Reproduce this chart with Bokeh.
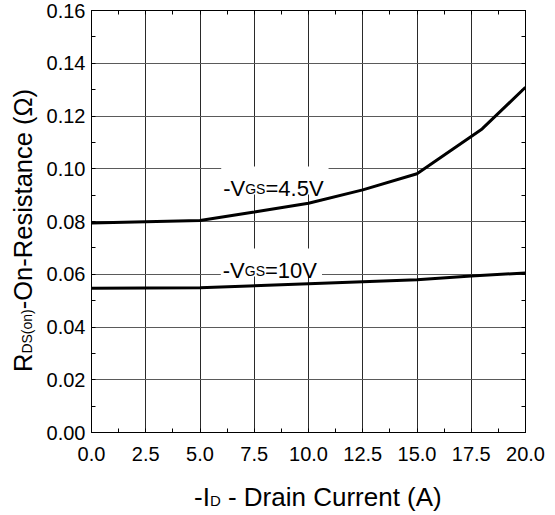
from bokeh.plotting import figure
from bokeh.models import Range1d, FixedTicker, LinearAxis, Label, BoxAnnotation, Div
from bokeh.layouts import column, row
from bokeh.embed import file_html
from bokeh.resources import INLINE

# ---- data ----
current_45 = [0.0, 2.5, 5.0, 7.5, 10.0, 12.5, 15.0, 18.0, 20.0]
rdson_45 = [0.0794, 0.0799, 0.0804, 0.0836, 0.0869, 0.0920, 0.0981, 0.1151, 0.1309]
current_10 = [0.0, 5.0, 10.0, 15.0, 17.5, 20.0]
rdson_10 = [0.0547, 0.0549, 0.0564, 0.0579, 0.0593, 0.0605]

x_ticks = [0.0, 2.5, 5.0, 7.5, 10.0, 12.5, 15.0, 17.5, 20.0]
x_tick_labels = ["0.0", "2.5", "5.0", "7.5", "10.0", "12.5", "15.0", "17.5", "20.0"]
y_ticks = [0.0, 0.02, 0.04, 0.06, 0.08, 0.10, 0.12, 0.14, 0.16]
y_tick_labels = ["0.00", "0.02", "0.04", "0.06", "0.08", "0.10", "0.12", "0.14", "0.16"]

FONT = "Liberation Sans"
YDIV_W = 40
W, HP = 555 - YDIV_W, 471
BL, BR, BT, BB = 51, 30, 10, 39
FW, FH = W - BL - BR, HP - BT - BB
XMIN, XMAX, YMIN, YMAX = 0.0, 20.0, 0.0, 0.16
PX_X = FW / (XMAX - XMIN)
PX_Y = FH / (YMAX - YMIN)

CW = {'-': .333, 'V': .667, 'G': .778, 'S': .667, '=': .584, '4': .556, '.': .278,
      '5': .556, '1': .556, '0': .556}


def tw(s, size):
    return sum(CW.get(c, .556) for c in s) * size


p = figure(width=W, height=HP, x_range=Range1d(XMIN, XMAX), y_range=Range1d(YMIN, YMAX),
           output_backend="svg", toolbar_location=None,
           min_border_left=BL, min_border_right=BR, min_border_top=BT, min_border_bottom=BB)
p.background_fill_color = "white"
p.border_fill_color = "white"
p.outline_line_color = "black"
p.outline_line_width = 1

x_minor = [1.25 * i for i in range(17)]
y_minor = [0.01 * i for i in range(17)]
xt = FixedTicker(ticks=x_ticks, minor_ticks=x_minor)
yt = FixedTicker(ticks=y_ticks, minor_ticks=y_minor)

p.xaxis.ticker = xt
p.yaxis.ticker = yt
p.xaxis.major_label_overrides = {t: l for t, l in zip(x_ticks, x_tick_labels)}
p.yaxis.major_label_overrides = {t: l for t, l in zip(y_ticks, y_tick_labels)}

for ax in (p.xaxis[0], p.yaxis[0]):
    ax.major_label_text_font = FONT
    ax.major_label_text_font_size = "20px"
    ax.major_label_text_color = "black"
    ax.axis_line_color = "black"
    ax.major_tick_in = 0
    ax.major_tick_out = 0
    ax.minor_tick_in = 4
    ax.minor_tick_out = 0
    ax.minor_tick_line_color = "black"
p.xaxis.major_label_standoff = 14
p.yaxis.major_label_standoff = 6

for loc, mt in (("right", y_minor), ("above", x_minor)):
    ax = LinearAxis(ticker=FixedTicker(ticks=[], minor_ticks=mt), major_label_standoff=0,
                    major_tick_in=0, major_tick_out=0, minor_tick_in=4, minor_tick_out=0,
                    axis_line_color="black", minor_tick_line_color="black")
    p.add_layout(ax, loc)

p.xgrid.ticker = xt
p.ygrid.ticker = yt
p.xgrid.grid_line_color = "#2a2a2a"
p.ygrid.grid_line_color = "#5a5a5a"
p.xgrid.grid_line_width = 1
p.ygrid.grid_line_width = 1

p.line(current_45, rdson_45, line_color="black", line_width=3)
p.line(current_10, rdson_10, line_color="black", line_width=3)


def curve_label(pieces, x0, y0):
    total = sum(tw(t, s) for t, s in pieces)
    p.add_layout(BoxAnnotation(left=x0 - 2 / PX_X, right=x0 + (total + 5) / PX_X,
                               bottom=y0 - 6 / PX_Y, top=y0 + 22 / PX_Y,
                               fill_color="white", fill_alpha=1.0, line_color=None))
    off = 0.0
    for t, s in pieces:
        p.add_layout(Label(x=x0 + off / PX_X, y=y0, text=t, text_font=FONT,
                           text_font_size=f"{s}px", text_color="black",
                           text_baseline="alphabetic", text_align="left"))
        off += tw(t, s)


curve_label([("-V", 22), ("GS", 14), ("=4.5V", 22)], 6.07, 0.0925)
curve_label([("-V", 22), ("GS", 14), ("=10V", 22)], 6.05, 0.0614)

# axis titles as real HTML text (with subscripts)
ylab_html = (
    f'<div style="padding-top:372px;padding-left:11px;">'
    f'<div style="transform-origin:left top;transform:rotate(-90deg);white-space:nowrap;'
    f'font-family:\'{FONT}\';font-size:25.5px;line-height:25.5px;color:black;">'
    f'R<span style="font-size:14px;">DS(on)</span>-On-Resistance (Ω)</div></div>'
)
xlab_html = (
    f'<div style="padding-top:13px;padding-left:194px;white-space:nowrap;'
    f'font-family:\'{FONT}\';font-size:26px;line-height:26px;color:black;">'
    f'-I<span style="font-size:15px;">D</span> - Drain Current (A)</div>'
)
ydiv = Div(text=ylab_html, width=YDIV_W, height=HP, margin=(0, 0, 0, 0))
xdiv = Div(text=xlab_html, width=555, height=515 - HP, margin=(0, 0, 0, 0))

layout = column(row(ydiv, p, spacing=0), xdiv, spacing=0)

open("out.html", "w").write(file_html(layout, INLINE))
